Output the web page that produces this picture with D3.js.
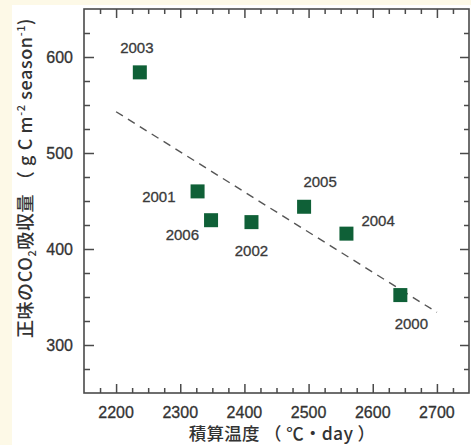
<!DOCTYPE html>
<html>
<head>
<meta charset="utf-8">
<script src="https://cdn.jsdelivr.net/npm/d3@7"></script>
<style>
  html, body { margin: 0; padding: 0; background: #fdf9e7; }
  svg { display: block; }
</style>
</head>
<body>
<div id="chart"></div>
<script>
// data
let years = ["2003", "2001", "2006", "2002", "2005", "2004", "2000"];
let heatSum = [2237, 2327, 2348, 2411, 2493, 2559, 2643];   // 積算温度 (°C・day)
let co2Uptake = [584, 460, 430, 428, 444, 416, 352];         // g C m-2 season-1
let trendX = [2200, 2700];
let trendY = [543, 334];
let xTicks = [2200, 2300, 2400, 2500, 2600, 2700];
let yTicks = [300, 400, 500, 600];

// label placement around each marker [dx, dy, anchor]
let labelPos = {
  "2003": [-3, -19, "middle"],
  "2001": [-22, 11, "end"],
  "2006": [-12, 20, "end"],
  "2002": [0, 34, "middle"],
  "2005": [16, -20, "middle"],
  "2004": [15, -8, "start"],
  "2000": [11, 34, "middle"]
};

let W = 471, H = 445;
let margin = { top: 9, right: 2, bottom: 52, left: 84 };

let svg = d3.select("#chart").append("svg")
  .attr("width", W)
  .attr("height", H);

// white panel on the cream page
svg.append("rect")
  .attr("x", 12).attr("y", 5)
  .attr("width", W - 12).attr("height", H - 5)
  .attr("fill", "#ffffff");

let x = d3.scaleLinear().domain([2150, 2750]).range([margin.left, W - margin.right]);
let y = d3.scaleLinear().domain([250, 650]).range([H - margin.bottom, margin.top]);

let frameColor = "#4a4a4a";
let numFont = "'Liberation Sans', Arial, sans-serif";
let jpFont = "'Noto Sans CJK JP', sans-serif";

// minor + major ticks on all four sides, pointing inward
let xMinor = d3.range(2175, 2750, 25).filter(v => xTicks.indexOf(v) < 0);
let yMinor = d3.range(275, 650, 25).filter(v => yTicks.indexOf(v) < 0);

function tickAxis(axisFn, scale, vals, size, transform) {
  let g = svg.append("g")
    .attr("transform", transform)
    .call(axisFn(scale).tickValues(vals).tickSize(size).tickFormat(""));
  g.select(".domain").remove();
  g.selectAll("line").attr("stroke", frameColor).attr("stroke-width", 1.5);
  return g;
}
let x0 = margin.left, x1 = W - margin.right, y0 = H - margin.bottom, y1 = margin.top;
tickAxis(d3.axisTop, x, xTicks, 9, `translate(0,${y0})`);
tickAxis(d3.axisTop, x, xMinor, 5, `translate(0,${y0})`);
tickAxis(d3.axisBottom, x, xTicks, 9, `translate(0,${y1})`);
tickAxis(d3.axisBottom, x, xMinor, 5, `translate(0,${y1})`);
tickAxis(d3.axisRight, y, yTicks, 10, `translate(${x0},0)`);
tickAxis(d3.axisRight, y, yMinor, 6, `translate(${x0},0)`);
tickAxis(d3.axisLeft, y, yTicks, 9, `translate(${x1},0)`);
tickAxis(d3.axisLeft, y, yMinor, 5, `translate(${x1},0)`);

// frame
svg.append("rect")
  .attr("x", x0).attr("y", y1)
  .attr("width", x1 - x0).attr("height", y0 - y1)
  .attr("fill", "none")
  .attr("stroke", frameColor)
  .attr("stroke-width", 1.6);

// tick labels
svg.append("g").selectAll("text")
  .data(xTicks).enter().append("text")
  .attr("x", d => x(d))
  .attr("y", y0 + 25)
  .attr("text-anchor", "middle")
  .attr("font-family", numFont)
  .attr("font-size", 16)
  .attr("fill", "#333")
  .attr("stroke", "#333").attr("stroke-width", 0.3)
  .text(d => d);

svg.append("g").selectAll("text")
  .data(yTicks).enter().append("text")
  .attr("x", x0 - 11)
  .attr("y", d => y(d) + 6)
  .attr("text-anchor", "end")
  .attr("font-family", numFont)
  .attr("font-size", 16)
  .attr("fill", "#333")
  .attr("stroke", "#333").attr("stroke-width", 0.3)
  .text(d => d);

// trend line (dashed)
svg.append("path")
  .datum(trendX.map((d, i) => [d, trendY[i]]))
  .attr("d", d3.line().x(d => x(d[0])).y(d => y(d[1])))
  .attr("fill", "none")
  .attr("stroke", "#555")
  .attr("stroke-width", 1.4)
  .attr("stroke-dasharray", "8,6");

// markers
let pts = years.map((yr, i) => ({ yr: yr, hx: heatSum[i], co2: co2Uptake[i] }));
let s = 14;
svg.append("g").selectAll("rect")
  .data(pts).enter().append("rect")
  .attr("x", d => x(d.hx) - s / 2)
  .attr("y", d => y(d.co2) - s / 2)
  .attr("width", s).attr("height", s)
  .attr("fill", "#0f6037");

// year labels
svg.append("g").selectAll("text")
  .data(pts).enter().append("text")
  .attr("x", d => x(d.hx) + labelPos[d.yr][0])
  .attr("y", d => y(d.co2) + labelPos[d.yr][1])
  .attr("text-anchor", d => labelPos[d.yr][2])
  .attr("font-family", numFont)
  .attr("font-size", 15)
  .attr("fill", "#3a3a3a")
  .attr("stroke", "#3a3a3a").attr("stroke-width", 0.3)
  .text(d => d.yr);

// axis titles
svg.append("text")
  .attr("x", 282)
  .attr("y", 440)
  .attr("text-anchor", "middle")
  .attr("font-family", jpFont)
  .attr("font-size", 17.5)
  .attr("font-weight", 500)
  .attr("letter-spacing", 0.3)
  .attr("fill", "#333")
  .text("積算温度 （ ℃・day ）");

let yt = svg.append("text")
  .attr("transform", "translate(32,178) rotate(-90)")
  .attr("text-anchor", "middle")
  .attr("font-family", jpFont)
  .attr("font-size", 18)
  .attr("font-weight", 500)
  .attr("letter-spacing", 0.6)
  .attr("fill", "#333");
yt.append("tspan").text("正味のCO");
yt.append("tspan").attr("font-size", 11).attr("dy", 4).text("2");
yt.append("tspan").attr("dy", -4).text("吸収量 （ g C m");
yt.append("tspan").attr("font-size", 11).attr("dy", -7).text("-2");
yt.append("tspan").attr("dy", 7).text(" season");
yt.append("tspan").attr("font-size", 11).attr("dy", -7).text("-1");
yt.append("tspan").attr("dy", 7).text(")");
</script>
</body>
</html>
